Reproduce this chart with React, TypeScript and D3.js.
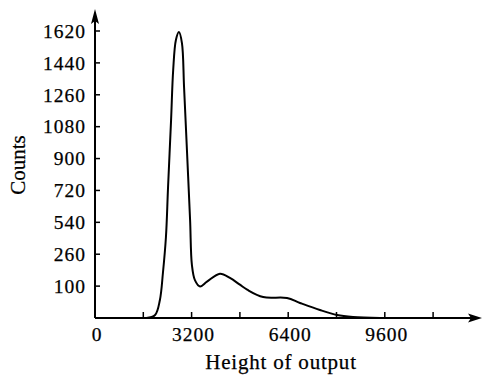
import React from "react";
import * as d3 from "d3";

const heights = [1700, 1990, 2150, 2250, 2350, 2420, 2520, 2590, 2680, 2780, 2880, 2950, 3050, 3150, 3210, 3310, 3480, 3710, 4140, 4470, 4800, 5040, 5570, 6360, 6790, 7450, 8020, 8550, 9440];
const counts = [0, 17, 102, 254, 457, 739, 1117, 1400, 1569, 1614, 1552, 1304, 931, 553, 300, 214, 178, 205, 250, 226, 188, 160, 118, 113, 85, 45, 17, 6, 0];

const yTickValues = [180, 360, 540, 720, 900, 1080, 1260, 1440, 1620];
const yTickLabels = ["100", "260", "540", "720", "900", "1080", "1260", "1440", "1620"];
const xTickValues = [1600, 3200, 4800, 6400, 8000, 9600, 11200];
const xLabelValues = [0, 3200, 6400, 9600];

const W = 482, H = 378;
const x0 = 95, y0 = 318;

export default function App() {
  const x = d3.scaleLinear().domain([0, 1600]).range([x0, x0 + 48.3]);
  const y = d3.scaleLinear().domain([0, 1620]).range([y0, 31]);
  const line = d3
    .line<number>()
    .x((_, i) => x(heights[i]))
    .y((d) => y(d))
    .curve(d3.curveCatmullRom.alpha(0.5));
  const font = "'Liberation Serif', 'Times New Roman', serif";
  const textStyle = { stroke: "#000", strokeWidth: 0.25 };
  return (
    <svg width={W} height={H} style={{ position: "absolute", left: 0, top: 0 }}>
      <rect width={W} height={H} fill="#fff" />
      <line x1={x0} y1={y0} x2={474} y2={y0} stroke="#000" strokeWidth={2} />
      <line x1={x0} y1={y0} x2={x0} y2={18} stroke="#000" strokeWidth={2} />
      <path d={`M482,${y0} L468,${y0 - 4.5} L471,${y0} L468,${y0 + 4.5} Z`} fill="#000" />
      <path d={`M${x0},9 L${x0 - 4},24 L${x0},21 L${x0 + 4},24 Z`} fill="#000" />
      {yTickValues.map((v, i) => (
        <g key={"y" + v}>
          <line x1={x0} x2={x0 + 5} y1={y(v)} y2={y(v)} stroke="#000" strokeWidth={1.5} />
          <text x={86} y={y(v)} dy="0.35em" textAnchor="end" fontFamily={font} fontSize={19.5} letterSpacing={1} style={textStyle}>
            {yTickLabels[i]}
          </text>
        </g>
      ))}
      {xTickValues.map((v) => (
        <line key={"x" + v} x1={x(v)} x2={x(v)} y1={y0} y2={y0 - 6} stroke="#000" strokeWidth={1.5} />
      ))}
      {xLabelValues.map((v) => (
        <text key={"xl" + v} x={x(v) + 2} y={341} textAnchor="middle" fontFamily={font} fontSize={19.5} letterSpacing={1} style={textStyle}>
          {v}
        </text>
      ))}
      <text x={281} y={369} textAnchor="middle" fontFamily={font} fontSize={21} letterSpacing={0.8} style={textStyle}>
        Height of output
      </text>
      <text transform="translate(25,165) rotate(-90)" textAnchor="middle" fontFamily={font} fontSize={21} style={textStyle}>
        Counts
      </text>
      <path d={line(counts) || ""} fill="none" stroke="#000" strokeWidth={2} />
    </svg>
  );
}
